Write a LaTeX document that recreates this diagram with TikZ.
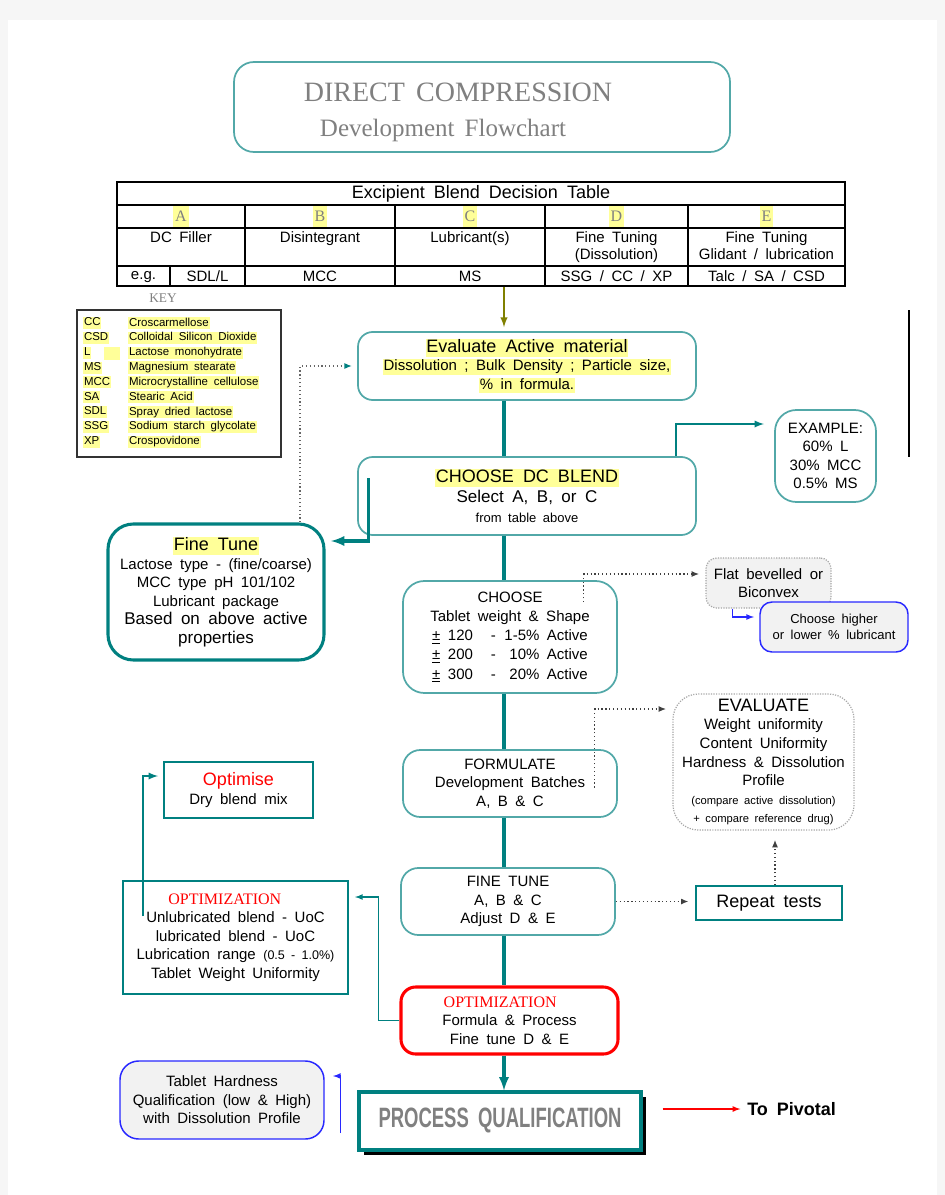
\documentclass[tikz,border=0pt]{standalone}
\usepackage{fontspec}
\setmainfont{Liberation Sans}[WordSpace=1.8]
\newfontfamily\serifT{Liberation Serif}[WordSpace=1.6]
\usetikzlibrary{arrows,arrows.meta,calc,positioning,shapes,shadows}

\definecolor{tealdark}{RGB}{0,128,128}
\definecolor{teallight}{RGB}{82,168,168}
\definecolor{hlyel}{RGB}{255,255,153}
\definecolor{boxgray}{RGB}{242,242,242}
\definecolor{lubblue}{RGB}{40,40,255}
\definecolor{titlegray}{RGB}{128,128,128}
\definecolor{olivearrow}{RGB}{128,128,0}

\newcommand\hlbox[1]{{\setlength\fboxsep{0.6pt}\colorbox{hlyel}{\vphantom{Ay}#1}}}
\newcommand\szH{\fontsize{13.5}{16.5}\selectfont}
\newcommand\szL{\fontsize{12.75}{15}\selectfont}
\newcommand\szM{\fontsize{11.25}{13.9}\selectfont}
\newcommand\szS{\fontsize{9.75}{12.5}\selectfont}
\newcommand\szT{\fontsize{8.6}{11}\selectfont}
\newcommand\szX{\fontsize{8.4}{12}\selectfont}
\newcommand\wrow[2]{\underline{±}~#1\hspace{1.2em}-\makebox[2.9em][r]{#2}~Active}

\begin{document}
\begin{tikzpicture}[x=0.75pt,y=-0.75pt,
  sz/.style 2 args={minimum width=#1*0.75pt,minimum height=#2*0.75pt},
  flow/.style={draw=teallight,line width=1.3pt,rounded corners=11pt,fill=white,align=center,inner sep=0pt,font=\szM},
  plain/.style={draw=tealdark,line width=1.3pt,fill=white,align=center,inner sep=0pt,font=\szM},
  greybox/.style={draw=gray!70,densely dotted,line width=0.9pt,fill=boxgray,rounded corners=8pt,align=center,inner sep=0pt,font=\szM},
  bluebox/.style={draw=lubblue,line width=1.1pt,fill=boxgray,rounded corners=9pt,align=center,inner sep=0pt,font=\szM},
  spine/.style={tealdark,line width=2.4pt},
  link/.style={tealdark,line width=1.4pt,-latex},
  dots/.style={black!75,dotted,line width=0.9pt,-{Latex[length=5.5pt,width=4.5pt]}},
  bluelink/.style={lubblue,line width=1pt,-latex},
  cell/.style={font=\szM,align=center,inner sep=0pt}]

\useasboundingbox (0,0) rectangle (945,1195);
\fill[gray!7] (0,0) rectangle (945,1195);
\fill[white] (8,20) rectangle (937,1195);

% title
\node[flow,rounded corners=15pt,sz={496}{90}] (title) at (482,107) {};
\node[font=\serifT\fontsize{21}{21}\selectfont,text=titlegray] (titleA) at (458,92) {DIRECT COMPRESSION};
\node[font=\serifT\fontsize{18.75}{19}\selectfont,text=titlegray] (titleB) at (443,130) {Development Flowchart};

% decision table
\draw[line width=0.9pt] (117,182) rectangle (845,286);
\draw[line width=0.9pt] (117,205) -- (845,205);
\draw[line width=1.6pt] (117,228) -- (845,228);
\draw[line width=0.9pt] (117,266) -- (845,266);
\draw[line width=1.8pt] (117,286) -- (845,286);
\foreach \cx in {245,395,545,688}
  \draw[line width=0.9pt] (\cx,205) -- (\cx,286);
\draw[line width=0.9pt] (170,266) -- (170,286);
\node[font=\fontsize{13.5}{15}\selectfont] (tbltitle) at (481,193.5) {Excipient Blend Decision Table};
\foreach \lx/\lt in {181/A,320/B,470/C,616.5/D,766.5/E}
  \node[fill=hlyel,inner xsep=1.5pt,inner ysep=0pt,minimum height=16pt,
        font=\serifT\fontsize{12}{14}\selectfont,text=titlegray] (col\lt) at (\lx,216.5) {\lt};
\node[cell,anchor=north] (hdA) at (181,231) {DC Filler};
\node[cell,anchor=north] (hdB) at (320,231) {Disintegrant};
\node[cell,anchor=north] (hdC) at (470,231) {Lubricant(s)};
\node[cell,anchor=north,font=\fontsize{11.25}{12.8}\selectfont] (hdD) at (616.5,231) {Fine Tuning\\(Dissolution)};
\node[cell,anchor=north,font=\fontsize{11.25}{12.8}\selectfont] (hdE) at (766.5,231) {Fine Tuning\\Glidant / lubrication};
\node[cell] (egL) at (143.5,277) {e.g.};
\node[cell] (egA) at (207.5,276) {SDL/L};
\node[cell] (egB) at (320,276) {MCC};
\node[cell] (egC) at (470,276) {MS};
\node[cell] (egD) at (616.5,276) {SSG / CC / XP};
\node[cell] (egE) at (766.5,276) {Talc / SA / CSD};
\coordinate (tblfoot) at (504,287);

% key
\node[font=\serifT\fontsize{10}{12}\selectfont,text=titlegray] (keylbl) at (163,298) {KEY};
\node[draw=black!80,line width=0.9pt,sz={204}{147}] (keybox) at (179,383.5) {};
\fill[hlyel] (104,346.5) rectangle (120,359.5);
\foreach \ab/\nm [count=\i] in {CC/Croscarmellose,CSD/Colloidal Silicon Dioxide,L/Lactose monohydrate,
    MS/Magnesium stearate,MCC/Microcrystalline cellulose,SA/Stearic Acid,SDL/Spray dried lactose,
    SSG/Sodium starch glycolate,XP/Crospovidone}{
  \node[anchor=west,font=\szT,inner sep=0pt] (ka\i) at (83,308.2+14.85*\i) {\hlbox{\ab}};
  \node[anchor=west,font=\szT,inner sep=0pt] (kn\i) at (128,308.2+14.85*\i) {\hlbox{\nm}};
}
\draw[black,line width=0.9pt] (909,310) -- (909,457);

% flow
\coordinate (spine) at (504,0);
\node[flow,sz={338}{68}] (eval) at (527,366)
  {\szH\hlbox{Evaluate Active material}\\ \hlbox{Dissolution ; Bulk Density ; Particle size,}\\ \hlbox{\% in formula.}};
\node[flow,font=\szL,sz={338}{78}] (blend) at (527,496)
  {\szH\hlbox{CHOOSE DC BLEND}\\ Select A, B, or C\\ \fontsize{9.75}{12}\selectfont from table above};
\node[flow,rounded corners=16pt,sz={101}{92}] (example) at (825.5,456)
  {EXAMPLE:\\60\% L\\30\% MCC\\0.5\% MS};
\node[flow,draw=tealdark,line width=2.3pt,rounded corners=19pt,sz={216}{136}] (finetune) at (216,592)
  {\szH\hlbox{Fine Tune}\\ Lactose type - (fine/coarse)\\MCC type pH 101/102\\Lubricant package\\
   \szL Based on above active\\ \szL properties};
\node[flow,font=\fontsize{11.25}{14.3}\selectfont,rounded corners=16pt,sz={214}{112}] (choose) at (510,637)
  {CHOOSE\\Tablet weight \& Shape\\ \wrow{120}{1-5\%}\\ \wrow{200}{10\%}\\ \wrow{300}{20\%}};
\node[greybox,sz={125}{50}] (flat) at (768.5,583) {Flat bevelled or\\Biconvex};
\node[bluebox,font=\szS,sz={148}{50}] (lubric) at (834,627) {Choose higher\\or lower \% lubricant};
\node[flow,rounded corners=13pt,sz={214}{67}] (formulate) at (510,783.5)
  {FORMULATE\\Development Batches\\A, B \& C};
\node[greybox,fill=white,rounded corners=19pt,sz={181}{136}] (evaluate) at (763.5,762)
  {\szH EVALUATE\\ Weight uniformity\\Content Uniformity\\Hardness \& Dissolution\\Profile\\
   \szX (compare active dissolution)\\ \szX + compare reference drug)};
\node[flow,rounded corners=13pt,sz={214}{67}] (tune) at (508,901.5)
  {FINE TUNE\\A, B \& C\\Adjust D \& E};
\node[plain,font=\szH,line width=1.5pt,sz={146}{34}] (repeat) at (769,903) {Repeat tests};
\node[plain,sz={149}{56}] (optimise) at (238.5,790) {\szH\textcolor{red}{Optimise}\\ Dry blend mix};
\node[plain,sz={225}{113}] (optleft) at (235.5,937.5)
  {{\fontsize{12}{14}\selectfont\textcolor{red}{\serifT OPTIMIZATION}}\hspace*{16pt}\\ Unlubricated blend - UoC\\
   lubricated blend - UoC\\Lubrication range {\fontsize{9.4}{12}\selectfont(0.5 - 1.0\%)}\\Tablet Weight Uniformity};
\node[flow,draw=red,line width=2.3pt,sz={217}{67}] (optred) at (509.5,1020.5)
  {{\fontsize{12}{14}\selectfont\textcolor{red}{\serifT OPTIMIZATION}}\hspace*{14pt}\\ Formula \& Process\\Fine tune D \& E};
\node[plain,line width=2.4pt,sz={282}{58},
      drop shadow={shadow xshift=4pt,shadow yshift=-4pt,fill=black,opacity=1}] (pq) at (500,1121)
  {\raisebox{4.5pt}{\scalebox{0.66}[1]{\fontsize{21}{21}\selectfont\bfseries\color{titlegray}PROCESS QUALIFICATION}}};
\node[bluebox,rounded corners=14pt,sz={204}{78}] (hardness) at (222,1100)
  {Tablet Hardness\\Qualification (low \& High)\\with Dissolution Profile};
\node[anchor=west,inner sep=0pt,font=\bfseries\fontsize{13.5}{16}\selectfont] (pivotal) at (747,1109) {To Pivotal};

% connectors
\coordinate (exend) at (764,424);
\coordinate (ftin) at (331,541);
\coordinate (flatin) at (699,574);
\coordinate (lubin) at (754,617);
\coordinate (evin) at (666,709);
\coordinate (optin) at (355,897);
\coordinate (optin2) at (158,776);
\coordinate (hdin) at (333,1076);

\draw[olivearrow,line width=1.5pt,-latex,shorten >=3pt] (tblfoot) -- (eval.north -| spine);
\draw[spine] (eval.south -| spine) -- (blend.north -| spine);
\draw[spine] (blend.south -| spine) -- (choose.north -| spine);
\draw[spine] (choose.south -| spine) -- (formulate.north -| spine);
\draw[spine] (formulate.south -| spine) -- (tune.north -| spine);
\draw[spine] (tune.south -| spine) -- (optred.north -| spine);
\draw[spine,-latex] (optred.south -| spine) -- (pq.north -| spine);

\draw[link] ($(blend.north east)+(-21,0)$) |- (exend);
\draw[spine,-latex] ($(blend.west)+(11,-18)$) |- (ftin);
\draw[dots,black!60,-{Latex[color=tealdark,length=5.5pt,width=4.5pt]}] ($(finetune.north)+(84,0)$) |- ([xshift=-4pt]eval.west);
\draw[dots] ($(choose.north east)+(-34,22)$) |- (flatin);
\draw[bluelink] ($(flat.south west)+(27,0)$) |- (lubin);
\draw[dots] ($(formulate.east)+(-23,4)$) |- (evin);
\draw[dots,shorten >=5pt] (tune.east) -- (repeat.west |- tune.east);
\draw[dots,shorten >=7pt] ($(repeat.north)+(6,0)$) -- ($(evaluate.south)+(11.5,0)$);
\draw[tealdark,line width=1pt,-latex] (optred.west) -- ++(-21,0) |- (optin);
\draw[link] ($(optleft.north west)+(21,36)$) |- (optin2);
\draw[bluelink] ($(pq.west)+(-17,12)$) |- (hdin);
\draw[red,line width=1pt,-latex,shorten >=5pt] ($(pq.east)+(20,-12)$) -- (pivotal.west);
\end{tikzpicture}
\end{document}
